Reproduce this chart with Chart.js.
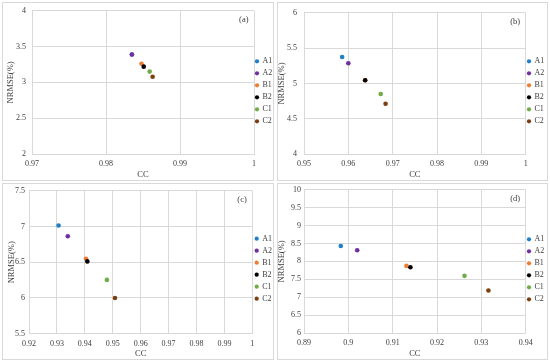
<!DOCTYPE html>
<html>
<head>
<meta charset="utf-8">
<script src="https://cdn.jsdelivr.net/npm/chart.js@4.4.1/dist/chart.umd.min.js"></script>
<style>
  html, body { margin: 0; padding: 0; background: #fff; }
  body { width: 550px; height: 364px; position: relative; overflow: hidden; }
  .panel { position: absolute; border: 1px solid #d9d9d9; box-sizing: border-box; }
  canvas { position: absolute; }
</style>
</head>
<body>
<div class="panel" style="left:2px;top:2px;width:272px;height:179px"></div>
<div class="panel" style="left:277px;top:2px;width:271px;height:179px"></div>
<div class="panel" style="left:2px;top:183px;width:272px;height:177px"></div>
<div class="panel" style="left:277px;top:183px;width:271px;height:177px"></div>
<canvas id="cA" width="275" height="182" style="left:0;top:0"></canvas>
<canvas id="cB" width="275" height="182" style="left:275px;top:0"></canvas>
<canvas id="cC" width="275" height="182" style="left:0;top:182px"></canvas>
<canvas id="cD" width="275" height="182" style="left:275px;top:182px"></canvas>
<script>
const SERIES = ['A1', 'A2', 'B1', 'B2', 'C1', 'C2'];
const COLORS = ['#1f7fc9', '#7030a0', '#ed7d31', '#000000', '#70ad47', '#7b3f10'];

// (a)
const CC_A    = [0.9835, 0.9835, 0.9848, 0.9851, 0.9859, 0.9863];
const NRMSE_A = [3.39, 3.39, 3.261, 3.22, 3.151, 3.078];
const X_TICKS_A = [0.97, 0.98, 0.99, 1];
const Y_TICKS_A = [2, 2.5, 3, 3.5, 4];

// (b)
const CC_B    = [0.9586, 0.9600, 0.9638, 0.9638, 0.9673, 0.9684];
const NRMSE_B = [5.374, 5.285, 5.045, 5.045, 4.852, 4.715];
const X_TICKS_B = [0.95, 0.96, 0.97, 0.98, 0.99, 1];
const Y_TICKS_B = [4, 4.5, 5, 5.5, 6];

// (c)
const CC_C    = [0.9306, 0.9339, 0.9404, 0.9409, 0.9479, 0.9508];
const NRMSE_C = [7.015, 6.863, 6.548, 6.512, 6.253, 5.999];
const X_TICKS_C = [0.92, 0.93, 0.94, 0.95, 0.96, 0.97, 0.98, 0.99, 1];
const Y_TICKS_C = [5.5, 6, 6.5, 7, 7.5];

// (d)
const CC_D    = [0.8983, 0.9020, 0.9131, 0.9140, 0.9262, 0.9316];
const NRMSE_D = [8.432, 8.311, 7.875, 7.837, 7.596, 7.188];
const X_TICKS_D = [0.89, 0.9, 0.91, 0.92, 0.93, 0.94];
const Y_TICKS_D = [6, 6.5, 7, 7.5, 8, 8.5, 9, 9.5, 10];

const FONT = "'Liberation Serif', 'Times New Roman', serif";
const TXT = '#404040';
const GRID = '#d9d9d9';
const H = 182;

// pins the plot area, legend and panel tag where the reference has them
function layoutPlugin(tag, lay) {
  return {
    id: 'panelLayout',
    beforeLayout(chart) {
      const lg = chart.legend;
      if (lg && !lg._pinned) {
        const fit = lg.fit;
        lg.fit = function () { fit.call(this); this.width = lay.lgW; };
        lg._pinned = true;
      }
    },
    afterLayout(chart) {
      const lg = chart.legend;
      lg.left = lay.lgLeft;
      lg.right = lay.lgLeft + 40;
      lg.top = lay.lgFirst - 8;
      lg.bottom = H;
    },
    afterDraw(chart) {
      const { ctx, chartArea } = chart;
      ctx.save();
      ctx.font = `8.5px ${FONT}`;
      ctx.fillStyle = TXT;
      ctx.textAlign = 'right';
      ctx.textBaseline = 'middle';
      ctx.fillText(tag, chartArea.right - 5.5, chartArea.top + 9);
      ctx.restore();
    }
  };
}

function makeChart(id, cc, nrmse, xTicks, yTicks, tag, lay) {
  const datasets = SERIES.map((name, i) => ({
    label: name,
    data: [{ x: cc[i], y: nrmse[i] }],
    backgroundColor: COLORS[i],
    borderColor: COLORS[i],
    borderWidth: 0,
    pointRadius: 2.3,
    pointHoverRadius: 2.3,
    pointStyle: 'circle',
    order: SERIES.length - i,
  }));

  return new Chart(document.getElementById(id), {
    type: 'scatter',
    data: { datasets },
    options: {
      responsive: false,
      animation: false,
      events: [],
      layout: { padding: { top: lay.top, left: 0, right: 0, bottom: 0 } },
      plugins: {
        tooltip: { enabled: false },
        legend: {
          position: 'right',
          align: 'start',
          labels: {
            usePointStyle: true,
            boxWidth: 3,
            boxHeight: 3,
            padding: 4,
            color: TXT,
            font: { family: FONT, size: 8 },
            sort: (a, b) => a.datasetIndex - b.datasetIndex,
          },
        },
      },
      scales: {
        x: {
          type: 'linear',
          min: xTicks[0],
          max: xTicks[xTicks.length - 1],
          afterBuildTicks: s => { s.ticks = xTicks.map(v => ({ value: v })); },
          afterFit: s => { s.height = lay.xH; },
          grid: { color: GRID, drawTicks: false },
          border: { color: GRID },
          ticks: {
            autoSkip: false, maxRotation: 0, padding: 5,
            color: TXT, font: { family: FONT, size: 8 },
            callback: v => String(v),
          },
          title: {
            display: true, text: 'CC', color: TXT,
            font: { family: FONT, size: 8.5 },
            padding: { top: 0, bottom: H - lay.xTitleY - 5.1 },
          },
        },
        y: {
          type: 'linear',
          min: yTicks[0],
          max: yTicks[yTicks.length - 1],
          afterBuildTicks: s => { s.ticks = yTicks.map(v => ({ value: v })); },
          afterFit: s => { s.width = lay.yW; },
          grid: { color: GRID, drawTicks: false },
          border: { color: GRID },
          ticks: {
            autoSkip: false, padding: lay.yTickPad,
            color: TXT, font: { family: FONT, size: 8 },
            callback: v => String(v),
          },
          title: {
            display: true, text: 'NRMSE(%)', color: TXT,
            font: { family: FONT, size: 8.5 },
            padding: { top: lay.yTitleX - 5.1, bottom: 0 },
          },
        },
      },
    },
    plugins: [layoutPlugin(tag, lay)],
  });
}

makeChart('cA', CC_A, NRMSE_A, X_TICKS_A, Y_TICKS_A, '(a)',
  { top: 9, yW: 32, xH: 28, lgW: 21, lgLeft: 251.5, lgFirst: 61.3, yTitleX: 11, yTickPad: 6, xTitleY: 174.5 });
makeChart('cB', CC_B, NRMSE_B, X_TICKS_B, Y_TICKS_B, '(b)',
  { top: 12.7, yW: 29, xH: 27.7, lgW: 24.3, lgLeft: 248.5, lgFirst: 61.3, yTitleX: 7, yTickPad: 7, xTitleY: 174.3 });
makeChart('cC', CC_C, NRMSE_C, X_TICKS_C, Y_TICKS_C, '(c)',
  { top: 7.3, yW: 29, xH: 30.3, lgW: 22.7, lgLeft: 251.2, lgFirst: 56.7, yTitleX: 11.5, yTickPad: 4, xTitleY: 171.7 });
makeChart('cD', CC_D, NRMSE_D, X_TICKS_D, Y_TICKS_D, '(d)',
  { top: 7.3, yW: 29, xH: 31, lgW: 24.3, lgLeft: 248.5, lgFirst: 57.3, yTitleX: 7, yTickPad: 3, xTitleY: 171.7 });
</script>
</body>
</html>
